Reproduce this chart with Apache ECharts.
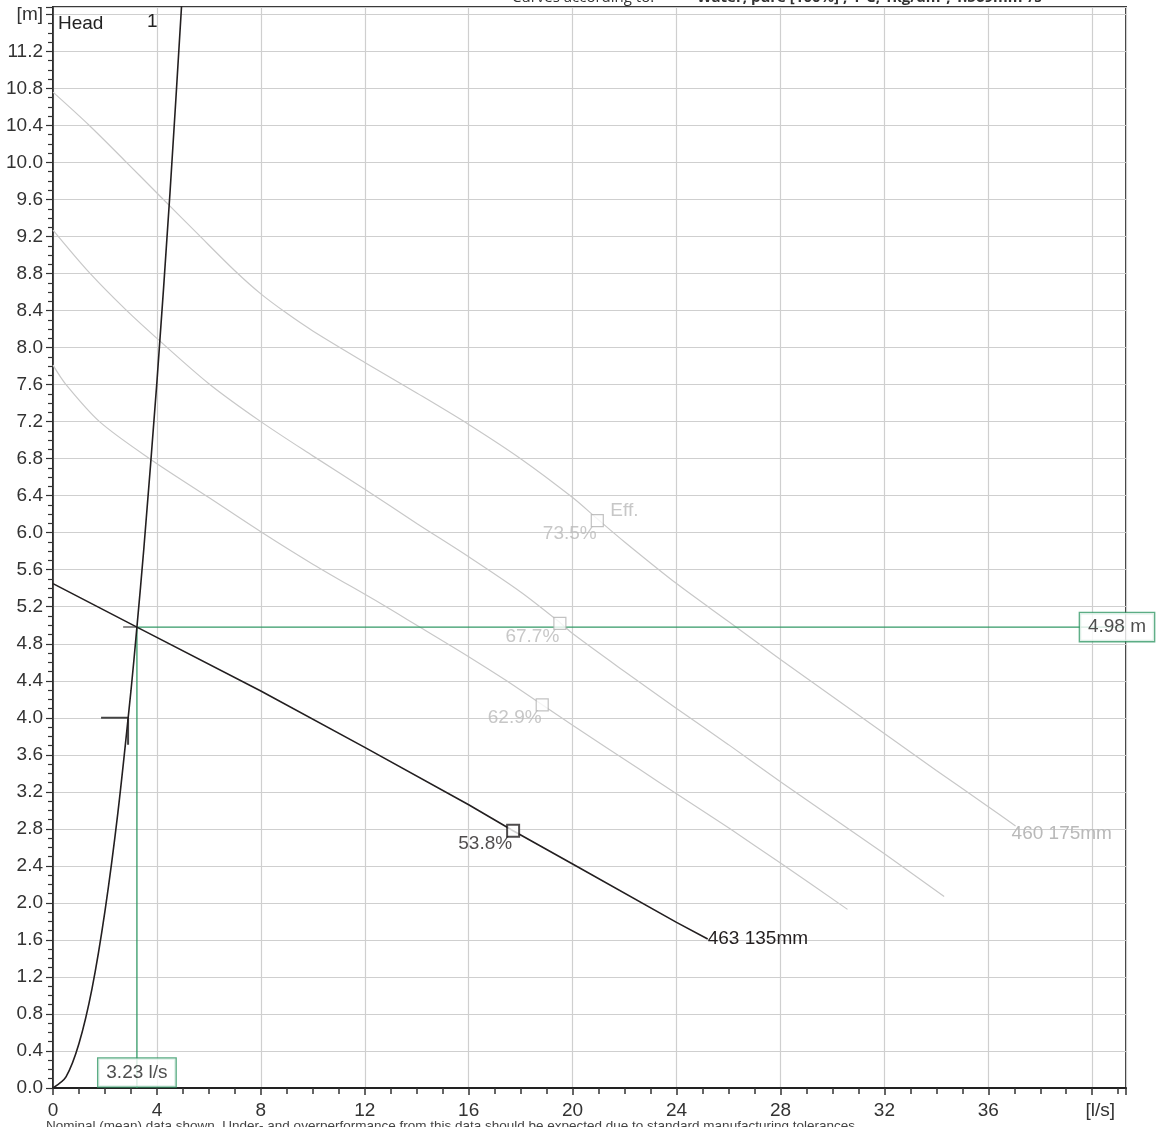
<!DOCTYPE html>
<html>
<head>
<meta charset="utf-8">
<script src="https://cdn.jsdelivr.net/npm/echarts@6/dist/echarts.min.js"></script>
<style>
  html, body { margin: 0; padding: 0; background: #fff; }
  #chart { width: 1156px; height: 1127px; }
</style>
</head>
<body>
<div id="chart"></div>
<script>
// ---------------- data ----------------
// system curve "1"
const sysQ = [0, 0.5, 1.0, 1.5, 2.0, 2.5, 3.0, 3.23, 3.5, 4.0, 4.5, 5.0];
const sysH = [0, 0.12, 0.48, 1.07, 1.91, 2.98, 4.29, 4.98, 5.84, 7.63, 9.66, 11.93];

// pump curve 463 135mm
const pumpQ = [0, 3.23, 8, 12, 16, 17.71, 20, 24, 25.2];
const pumpH = [5.45, 4.98, 4.29, 3.68, 3.06, 2.78, 2.42, 1.79, 1.61];

// grey curve 460 175mm
const curveAQ = [0, 1.4, 2.8, 4, 5.6, 7, 8, 9, 10, 12, 14, 16, 18, 20, 20.95, 22, 24, 26, 28, 30, 32, 34, 36, 37.05];
const curveAH = [10.76, 10.40, 10.01, 9.67, 9.22, 8.83, 8.58, 8.37, 8.18, 7.84, 7.51, 7.17, 6.80, 6.38, 6.15, 5.90, 5.45, 5.04, 4.63, 4.23, 3.83, 3.43, 3.04, 2.83];

// grey curve B
const curveBQ = [0, 1.4, 2.8, 4, 6, 8, 10, 12, 14, 16, 18, 19.51, 20, 22, 24, 26, 28, 30, 32, 34.3];
const curveBH = [9.27, 8.81, 8.41, 8.1, 7.61, 7.2, 6.83, 6.47, 6.1, 5.74, 5.36, 5.03, 4.91, 4.5, 4.1, 3.71, 3.31, 2.92, 2.53, 2.07];

// grey curve C
const curveCQ = [0, 0.5, 1.79, 3.72, 6, 8, 10, 12.58, 14, 16, 17.4, 18.83, 20, 22.59, 23.94, 26.06, 28, 30.58];
const curveCH = [7.81, 7.6, 7.2, 6.8, 6.38, 6.01, 5.66, 5.24, 5.0, 4.66, 4.41, 4.14, 3.92, 3.44, 3.19, 2.8, 2.43, 1.93];

// efficiency points
const effQ = [20.95, 19.51, 18.83, 17.71];
const effH = [6.13, 5.02, 4.14, 2.78];
const effLabels = ['73.5%', '67.7%', '62.9%', '53.8%'];

// duty point
const dutyQ = 3.23;
const dutyH = 4.98;
const dutyQLabel = '3.23 l/s';
const dutyHLabel = '4.98 m';

// tolerance mark on system curve
const tolQ = [1.85, 2.89, 2.89];
const tolH = [4.0, 4.0, 3.71];

// axes
const xMax = 41.3, yMax = 11.68;
const xUnitTick = 40, yUnitTick = 11.6;
const xUnit = '[l/s]', yUnit = '[m]';

const zip = (a, b) => a.map((v, i) => [v, b[i]]);

const grey = '#c8c8c8';
const greyText = '#b9b9b9';
const black = '#231f20';
const green = '#339966';
const FONT = 'Liberation Sans, Arial, sans-serif';

const chart = echarts.init(document.getElementById('chart'), null, { renderer: 'canvas' });

const option = {
  animation: false,
  backgroundColor: '#fff',
  grid: {
    left: 53, right: 30, top: 7, bottom: 39,
    show: true, borderColor: '#3a3a3a', borderWidth: 2, backgroundColor: 'transparent'
  },
  xAxis: {
    type: 'value', min: 0, max: xMax, interval: 4,
    axisLine: { show: true, onZero: false, lineStyle: { color: '#222', width: 2 } },
    axisTick: { show: true, length: 7, lineStyle: { color: '#333', width: 1.5 } },
    minorTick: { show: true, splitNumber: 4, length: 6, lineStyle: { color: '#333', width: 1.5 } },
    splitLine: { show: true, lineStyle: { color: '#cfcfcf', width: 1.2 } },
    axisLabel: {
      show: true, margin: 13, fontSize: 19, fontFamily: FONT, color: '#333',
      showMaxLabel: false,
      formatter: v => Math.abs(v - xUnitTick) < 1e-6 ? '{u|' + xUnit + '}' : String(Math.round(v)),
      rich: { u: { fontSize: 19, fontFamily: FONT, color: '#333', padding: [0, 0, 0, 16] } }
    }
  },
  yAxis: {
    type: 'value', min: 0, max: yMax, interval: 0.4,
    axisLine: { show: true, onZero: false, lineStyle: { color: '#222', width: 1.5 } },
    axisTick: { show: true, length: 7, lineStyle: { color: '#333', width: 1.2 } },
    minorTick: { show: true, splitNumber: 4, length: 5, lineStyle: { color: '#333', width: 1.2 } },
    splitLine: { show: true, lineStyle: { color: '#cfcfcf', width: 1.2 } },
    axisLabel: {
      show: true, margin: 10, fontSize: 19, fontFamily: FONT, color: '#333',
      showMaxLabel: false,
      formatter: v => Math.abs(v - yUnitTick) < 1e-6 ? yUnit : v.toFixed(1)
    }
  },
  series: [
    {
      name: 'A', type: 'line', data: zip(curveAQ, curveAH), symbol: 'none', smooth: 0.3, z: 2,
      lineStyle: { color: grey, width: 1.2 },
      endLabel: { show: true, formatter: '460 175mm', color: greyText, fontSize: 19, fontFamily: FONT, distance: 0, offset: [-4, 8] }
    },
    {
      name: 'B', type: 'line', data: zip(curveBQ, curveBH), symbol: 'none', smooth: 0.3, z: 2,
      lineStyle: { color: grey, width: 1.2 }
    },
    {
      name: 'C', type: 'line', data: zip(curveCQ, curveCH), symbol: 'none', smooth: 0.3, z: 2,
      lineStyle: { color: grey, width: 1.2 }
    },
    {
      name: 'dutyV', type: 'line', data: [[dutyQ, dutyH], [dutyQ, 0]], symbol: 'none', z: 3,
      lineStyle: { color: green, width: 1.3 }
    },
    {
      name: 'dutyH', type: 'line', data: [[dutyQ, dutyH], [xMax, dutyH]], symbol: 'none', z: 3,
      lineStyle: { color: green, width: 1.3 }
    },
    {
      name: 'dutyStub', type: 'line', data: [[2.7, dutyH], [dutyQ, dutyH]], symbol: 'none', z: 4,
      lineStyle: { color: '#666', width: 1.5 }
    },
    {
      name: 'tol', type: 'line', data: zip(tolQ, tolH), symbol: 'none', z: 4,
      lineStyle: { color: '#444', width: 2 }
    },
    {
      name: 'system', type: 'line', data: zip(sysQ, sysH), symbol: 'none', smooth: 0.3, z: 5,
      lineStyle: { color: black, width: 1.6 }
    },
    {
      name: 'pump', type: 'line', data: zip(pumpQ, pumpH), symbol: 'none', smooth: false, z: 5,
      lineStyle: { color: black, width: 1.6 },
      endLabel: { show: true, formatter: '463 135mm', color: black, fontSize: 19, fontFamily: FONT, distance: 0, offset: [0, 0] }
    },
    {
      name: 'eff', type: 'scatter', z: 6, symbol: 'rect', symbolSize: 12,
      data: effQ.map((q, i) => ({
        value: [q, effH[i]],
        itemStyle: i === 3
          ? { color: '#fff', borderColor: black, borderWidth: 2 }
          : { color: '#fff', borderColor: '#b3b3b3', borderWidth: 1.2 },
        label: { color: i === 3 ? black : greyText }
      })),
      label: {
        show: true, position: 'left', distance: -6, offset: [0, 13],
        fontSize: 19, fontFamily: FONT,
        formatter: p => effLabels[p.dataIndex]
      }
    },
    {
      name: 'effTitle', type: 'scatter', z: 6, symbol: 'circle', symbolSize: 12,
      itemStyle: { color: 'transparent' },
      data: [[effQ[0], effH[0]]],
      label: { show: true, position: 'right', distance: 7, offset: [0, -10], formatter: 'Eff.', color: greyText, fontSize: 19, fontFamily: FONT }
    },
    {
      name: 'qLabel', type: 'scatter', z: 10, symbol: 'circle', symbolSize: 1, clip: false,
      itemStyle: { color: 'transparent' },
      data: [[dutyQ, 0]],
      label: {
        show: true, position: 'top', distance: 1, formatter: dutyQLabel,
        fontSize: 19, fontFamily: FONT, color: '#222',
        backgroundColor: '#fff', borderColor: green, borderWidth: 1.3, padding: [5, 8, 4, 8]
      }
    },
    {
      name: 'hLabel', type: 'scatter', z: 10, symbol: 'circle', symbolSize: 1, clip: false,
      itemStyle: { color: 'transparent' },
      data: [[xMax, dutyH]],
      label: {
        show: true, position: 'inside', offset: [-9, 0], formatter: dutyHLabel,
        fontSize: 19, fontFamily: FONT, color: '#222',
        backgroundColor: '#fff', borderColor: green, borderWidth: 1.3, padding: [5, 8, 4, 8]
      }
    }
  ],
  graphic: [
    { type: 'text', left: 58, top: 14, z: 20, style: { text: 'Head', font: '19px ' + FONT, fill: '#222' } },
    { type: 'text', left: 147, top: 12, z: 20, style: { text: '1', font: '19px ' + FONT, fill: '#222' } },
    { type: 'text', left: 512, top: -10, z: 20, style: { text: 'Curves according to:', font: '15px Open Sans, sans-serif', fill: '#333' } },
    { type: 'text', left: 697, top: -10, z: 20, style: { text: 'Water, pure [100%] ; 4°C, 1kg/dm³, 1.569mm²/s', font: 'bold 15px Open Sans, sans-serif', fill: '#333' } },
    { type: 'text', left: 46, top: 1119, z: 20, style: { text: 'Nominal (mean) data shown. Under- and overperformance from this data should be expected due to standard manufacturing tolerances.', font: '13.5px ' + FONT, fill: '#444' } }
  ]
};

chart.setOption(option);
</script>
</body>
</html>
